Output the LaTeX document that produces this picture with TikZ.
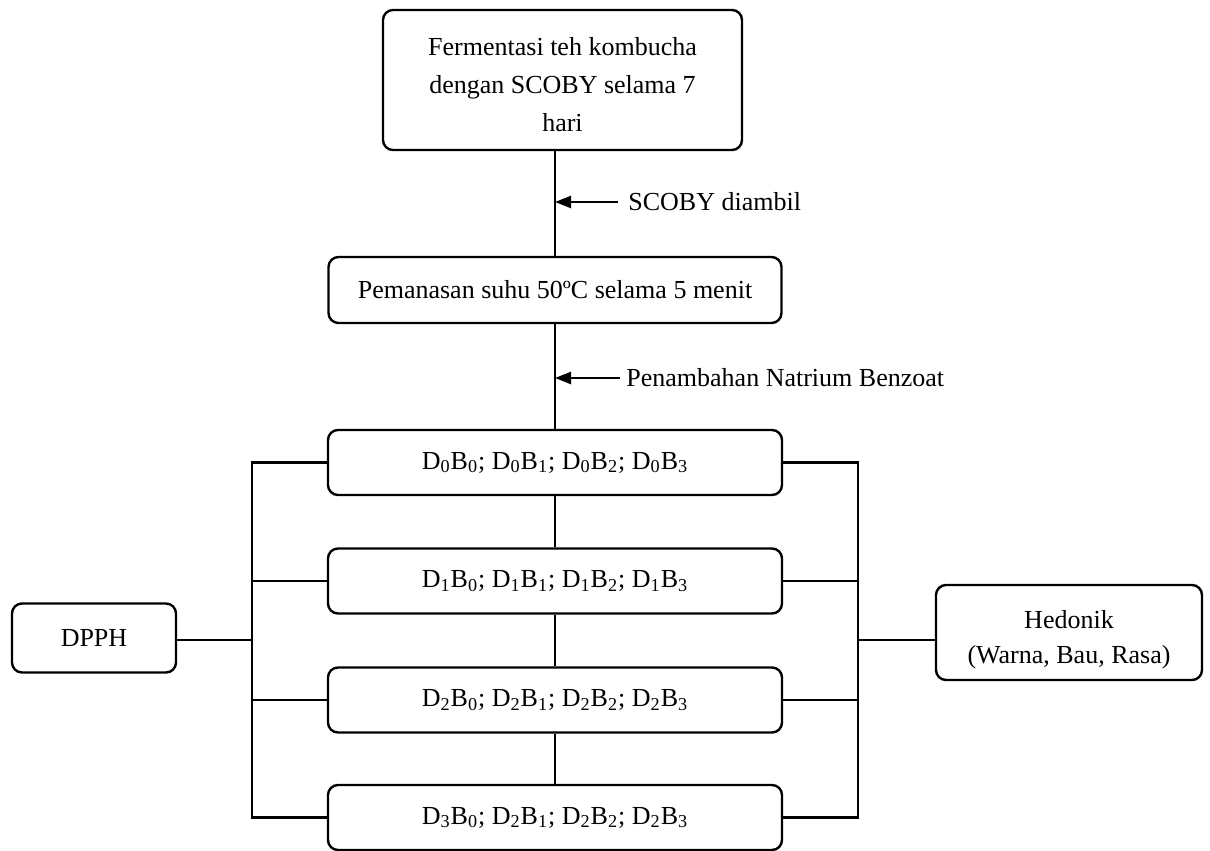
\documentclass[tikz,border=0pt]{standalone}
\usepackage{fontspec}
\setmainfont{Liberation Serif}
\usetikzlibrary{arrows.meta}
\newcommand\sbx[1]{\textsubscript{#1}}
\tikzset{
  pbox/.style={draw=black, line width=1.2pt, rounded corners=5pt, fill=white,
    inner sep=0pt, align=center, font=\fontsize{13}{19}\selectfont},
  txt/.style={inner sep=0pt, align=center, font=\fontsize{13}{19}\selectfont},
  conn/.style={draw=black, line width=1.2pt},
  side/.style={conn, -{Triangle[length=8pt,width=6pt]}},
  lbl/.style={anchor=west, inner sep=0pt, font=\fontsize{13}{19}\selectfont}
}
\begin{document}
\begin{tikzpicture}[x=0.5pt,y=-0.5pt]
\useasboundingbox (0,0) rectangle (1210,851);
% main column
\node[pbox, minimum width=179.5pt, minimum height=70pt] (top) at (562.5,80) {};
\node[txt] (toptext) at (562.5,85)
  {Fermentasi teh kombucha\\dengan SCOBY selama 7\\hari};
\node[pbox, minimum width=226.5pt, minimum height=33pt] (heat) at (555,290)
  {Pemanasan suhu 50ºC selama 5 menit};
\node[pbox, minimum width=227pt, minimum height=32.5pt] (d0) at (555,462.5)
  {D\sbx{0}B\sbx{0}; D\sbx{0}B\sbx{1}; D\sbx{0}B\sbx{2}; D\sbx{0}B\sbx{3}};
\node[pbox, minimum width=227pt, minimum height=32.5pt] (d1) at (555,581)
  {D\sbx{1}B\sbx{0}; D\sbx{1}B\sbx{1}; D\sbx{1}B\sbx{2}; D\sbx{1}B\sbx{3}};
\node[pbox, minimum width=227pt, minimum height=32.5pt] (d2) at (555,700)
  {D\sbx{2}B\sbx{0}; D\sbx{2}B\sbx{1}; D\sbx{2}B\sbx{2}; D\sbx{2}B\sbx{3}};
\node[pbox, minimum width=227pt, minimum height=32.5pt] (d3) at (555,817.5)
  {D\sbx{3}B\sbx{0}; D\sbx{2}B\sbx{1}; D\sbx{2}B\sbx{2}; D\sbx{2}B\sbx{3}};
% side boxes
\node[pbox, minimum width=82pt, minimum height=34.5pt] (dpph) at (94,638)
  {DPPH};
\node[pbox, minimum width=133pt, minimum height=47.5pt] (hed) at (1069,632.5) {};
\node[txt, font=\fontsize{13}{17.5}\selectfont] (hedtext) at (1069,640)
  {Hedonik\\(Warna, Bau, Rasa)};
% vertical connectors
\draw[conn] (top.south -| heat) -- (heat.north);
\draw[conn] (heat.south) -- (d0.north);
\draw[conn] (d0.south) -- (d1.north);
\draw[conn] (d1.south) -- (d2.north);
\draw[conn] (d2.south) -- (d3.north);
% side arrows
\coordinate (a1) at (618,202);
\coordinate (a2) at (620,378);
\draw[side] (a1) -- (a1 -| heat);
\draw[side] (a2) -- (a2 -| heat);
\node[lbl] (l1) at (628,202) {SCOBY diambil};
\node[lbl] (l2) at (626,378) {Penambahan Natrium Benzoat};
% left bracket
\coordinate (L) at (252,0);
\coordinate (R) at (858,0);
\draw[conn] (d0.west) -- (d0.west -| L) -- (d3.west -| L) -- (d3.west);
\draw[conn] (d1.west) -- (d1.west -| L);
\draw[conn] (d2.west) -- (d2.west -| L);
\coordinate (mid) at (555,640);
\draw[conn] (dpph.east |- mid) -- (mid -| L);
% right bracket
\draw[conn] (d0.east) -- (d0.east -| R) -- (d3.east -| R) -- (d3.east);
\draw[conn] (d1.east) -- (d1.east -| R);
\draw[conn] (d2.east) -- (d2.east -| R);
\draw[conn] (mid -| R) -- (hed.west |- mid);
\end{tikzpicture}
\end{document}
